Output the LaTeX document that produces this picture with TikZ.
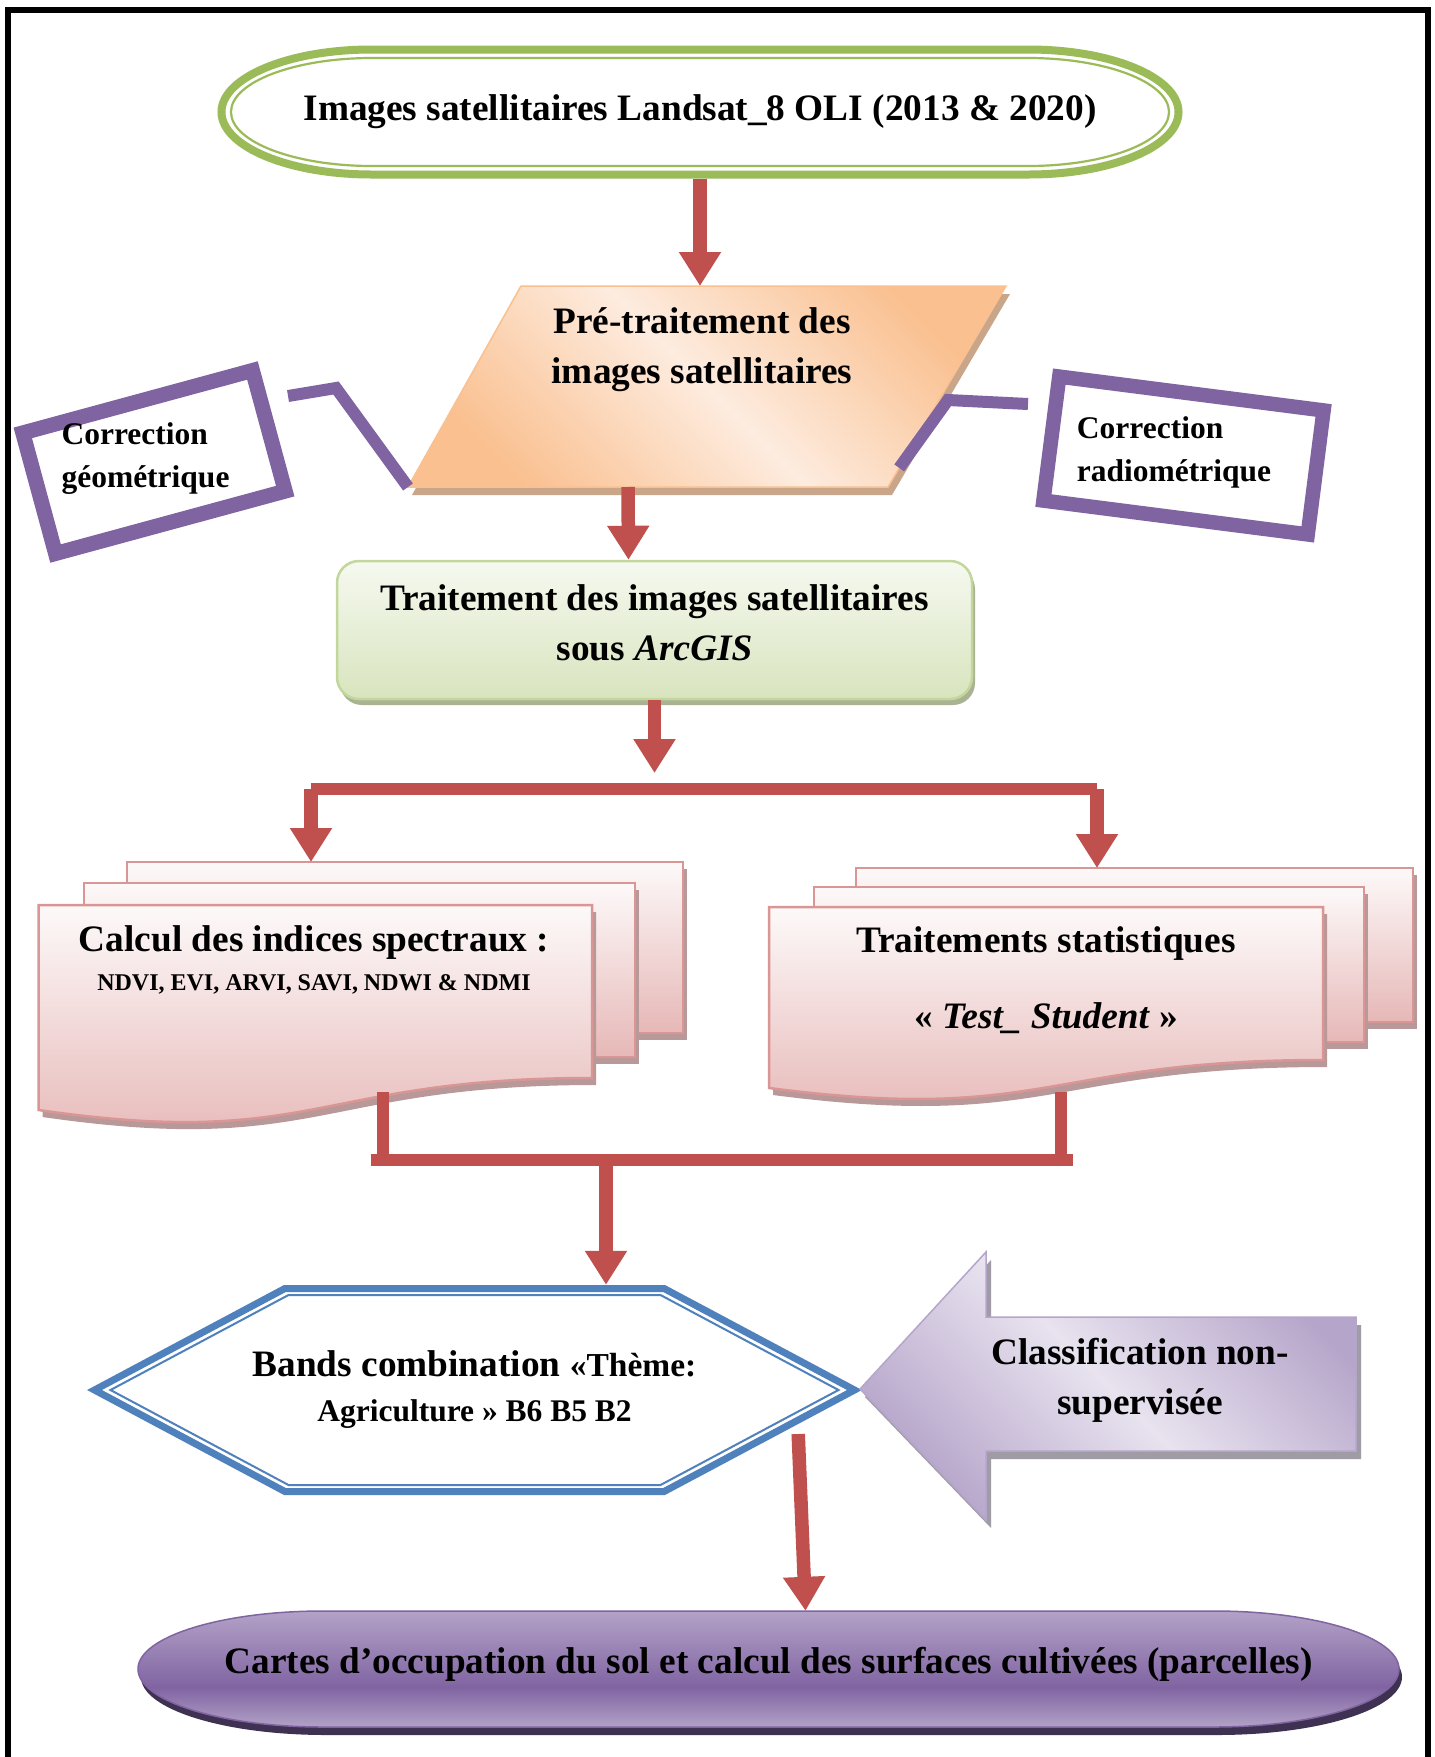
\documentclass[tikz,border=0pt]{standalone}
\usepackage{fontspec}
\setmainfont{Liberation Serif}
\usepackage{tikz}
\usetikzlibrary{arrows.meta,calc}
\usepackage{xcolor}
\definecolor{redarr}{HTML}{C0504D}
\definecolor{termgreen}{HTML}{9BBB59}
\definecolor{preorange}{HTML}{FAC090}
\definecolor{prelight}{HTML}{FDECDF}
\definecolor{preshadow}{HTML}{C9A689}
\definecolor{corrpurple}{HTML}{8064A2}
\definecolor{trttop}{HTML}{F6F9F0}
\definecolor{trtbot}{HTML}{D8E4BE}
\definecolor{trtline}{HTML}{C3D69B}
\definecolor{trtshadow}{HTML}{A9B293}
\definecolor{doctop}{HTML}{FDF9F9}
\definecolor{docbot}{HTML}{E6B8B7}
\definecolor{docline}{HTML}{D99694}
\definecolor{docshadow}{HTML}{B89898}
\definecolor{hexblue}{HTML}{4F81BD}
\definecolor{clslight}{HTML}{E8E3EF}
\definecolor{clsdark}{HTML}{B6A5CA}
\definecolor{clsshadow}{HTML}{A09CA6}
\definecolor{cartlight}{HTML}{B3A2C7}
\definecolor{cartdark}{HTML}{8064A2}
\definecolor{cartshadow}{HTML}{3F3151}
\newcommand\fbig{\fontsize{37.3pt}{50pt}\selectfont}
\newcommand\fmid{\fontsize{31.5pt}{43pt}\selectfont}
\newcommand\fhex{\fontsize{31.5pt}{45pt}\selectfont}
\newcommand\fsmall{\fontsize{24pt}{38pt}\selectfont}
\newcommand\termpath[5]{({#1-#3+#5},{#2-#4})--({#1+#3-#5},{#2-#4})
  arc[start angle=-90,end angle=90,x radius=#5,y radius=#4]--({#1-#3+#5},{#2+#4})
  arc[start angle=90,end angle=270,x radius=#5,y radius=#4]--cycle}
\newcommand\hexpath[5]{({#1-#3},#2)--({#1-#4},{#2-#5})--({#1+#4},{#2-#5})--({#1+#3},#2)
  --({#1+#4},{#2+#5})--({#1-#4},{#2+#5})--cycle}
\pgfdeclareverticalshading{cartshade}{100bp}{color(0bp)=(cartlight); color(25bp)=(cartlight);
  color(42bp)=(cartdark); color(75bp)=(cartlight); color(100bp)=(cartlight)}

\begin{document}
\begin{tikzpicture}[x=1pt,y=-1pt,>={Triangle[width=40pt,length=34pt]}]
\tikzstyle{txt}=[font=\bfseries\fbig,align=center,inner sep=0pt]
\tikzstyle{redarrow}=[->,draw=redarr,line width=13.5pt]
\tikzstyle{redbar}=[draw=redarr,line width=12.5pt]
\tikzstyle{corrbox}=[draw=corrpurple,line width=15pt,minimum height=125pt,inner sep=0pt]
\tikzstyle{corrline}=[draw=corrpurple,line width=12pt]
\tikzstyle{docpage}=[draw=docline,line width=2.5pt,top color=doctop,bottom color=docbot,preaction={fill=docshadow,transform canvas={shift={(4,7)}}}]
\useasboundingbox(0,0)rectangle(1435,1757);
\fill[white](0,0)rectangle(1435,1757);
\draw[line width=6.5pt](8,1770)|-(1428,10)--(1428,1770);
\draw[termgreen,line width=8pt]\termpath{700}{112}{478.5}{62.5}{150};
\draw[termgreen,line width=2.2pt]\termpath{700}{112}{469}{54}{141};
\node(img)at(700,112)[txt,minimum width=965pt,minimum height=133pt]{Images satellitaires Landsat\_8 OLI (2013 \& 2020)};
\path[draw=preorange,line width=1.5pt,top color=preorange,bottom color=preorange,middle color=prelight,shading angle=-45,preaction={fill=preshadow,transform canvas={shift={(4,8)}}}](521,286)coordinate(pre-nw)--(1006,286)coordinate(pre-ne)--(888,487)coordinate(pre-se)--(408,487)coordinate(pre-sw)--cycle;
\node(pre)at(702,350)[txt]{Pré-traitement des\\images satellitaires};
\node(geo-box)at(154,462)[corrbox,minimum width=238pt,rotate=15.2]{};
\node(geo)at(145.5,458.5)[txt,font=\bfseries\fmid,align=left]{Correction\\géométrique};
\node(radio-box)at(1183.5,455.5)[corrbox,line width=14.5pt,minimum width=266.5pt,rotate=-7.3]{};
\node(radio)at(1174,452)[txt,font=\bfseries\fmid,align=left]{Correction\\radiométrique};
\coordinate(geo-link)at(288,396);
\coordinate(radio-link)at(1028,404);
\draw[corrline](geo-link)--++(48,-8)--(pre-sw);
\draw[corrline](radio-link)--++(-80,-4)--($(pre-se)!0.095!(pre-ne)$);
\node(trt)at(654.5,630)[txt,draw=trtline,line width=2.5pt,rounded corners=22pt,top color=trttop,bottom color=trtbot,minimum width=635pt,minimum height=138pt,preaction={fill=trtshadow,transform canvas={shift={(3,6)}}}]{Traitement des images satellitaires\\sous \textit{ArcGIS}\\[-36pt]};
\path[docpage](127,862)coordinate(calc-back)rectangle(683,1033);
\path[docpage](84,883)rectangle(635,1057);
\path[docpage](38.5,905)--(592,905)--(592,1078)..controls(315,1078)and(315,1150)..(38.5,1110)--cycle;
\node(calc)at(314,960)[txt]{Calcul des indices spectraux :\\[-11pt]{\fsmall NDVI, EVI, ARVI, SAVI, NDWI \& NDMI}};
\path[docpage](856,868)coordinate(stat-back)rectangle(1413,1022);
\path[docpage](814,887)rectangle(1364,1042);
\path[docpage](769,907)--(1323,907)--(1323,1060)..controls(1046,1060)and(1046,1124)..(769,1088)--cycle;
\node(stat)at(1046,980)[txt]{Traitements statistiques\\[26pt]« \textit{Test\_ Student} »};
\draw[hexblue,line width=7pt]\hexpath{474.5}{1390}{380}{189.6}{101.5};
\draw[hexblue,line width=2pt]\hexpath{474.5}{1390}{364}{186}{95};
\node(hex)at(474.5,1390)[txt,minimum width=775pt,minimum height=210pt]{Bands combination {\fontsize{33.5pt}{45pt}\selectfont «Thème:}\\[-5pt]{\fhex Agriculture » B6 B5 B2}};
\path[draw=clsdark,line width=1.5pt,top color=clsdark,bottom color=clsdark,middle color=clslight,shading angle=-45,preaction={fill=clsshadow,transform canvas={shift={(5,8)}}}](860,1389)--(986,1252)--(986,1317)--(1356,1317)--(1356,1451)--(986,1451)--(986,1520)--cycle;
\node(cls)at(1140,1380)[txt]{Classification non-\\supervisée};
\path[shade,shading=cartshade,draw=cartdark,line width=1.5pt,preaction={fill=cartshadow,transform canvas={shift={(3,8)}}}]\termpath{768.5}{1669}{630.5}{58}{185};
\node(cartes)at(768.5,1664)[txt,minimum height=106pt]{Cartes d’occupation du sol et calcul des surfaces cultivées (parcelles)};
\coordinate(fork-w)at(311,789);
\coordinate(fork-e)at(1097,789);
\coordinate(calc-out)at(383,1092);
\coordinate(stat-out)at(1061,1092);
\coordinate(merge)at(606,1160);
\draw[redarrow](img.south)--(img.south|-pre-nw);
\draw[redarrow]($(pre-sw)+(220,0)$)--($(trt.north)+(-26,0)$);
\draw[redarrow](trt.south)--($(trt.south|-fork-w)+(0,-16)$);
\draw[redbar](fork-w)--(fork-e);
\draw[redarrow](fork-w)--(fork-w|-calc-back);
\draw[redarrow](fork-e)--(fork-e|-stat-back);
\draw[redbar,line width=12pt](calc-out)--(calc-out|-merge);
\draw[redbar,line width=12pt](stat-out)--(stat-out|-merge);
\draw[redbar]($(calc-out|-merge)+(-12,0)$)--($(stat-out|-merge)+(12,0)$);
\draw[redarrow](merge)--(merge|-hex.north);
\draw[redarrow]($(hex.east)+(-64,44)$)--($(cartes.north)+(37,0)$);
\end{tikzpicture}
\end{document}
